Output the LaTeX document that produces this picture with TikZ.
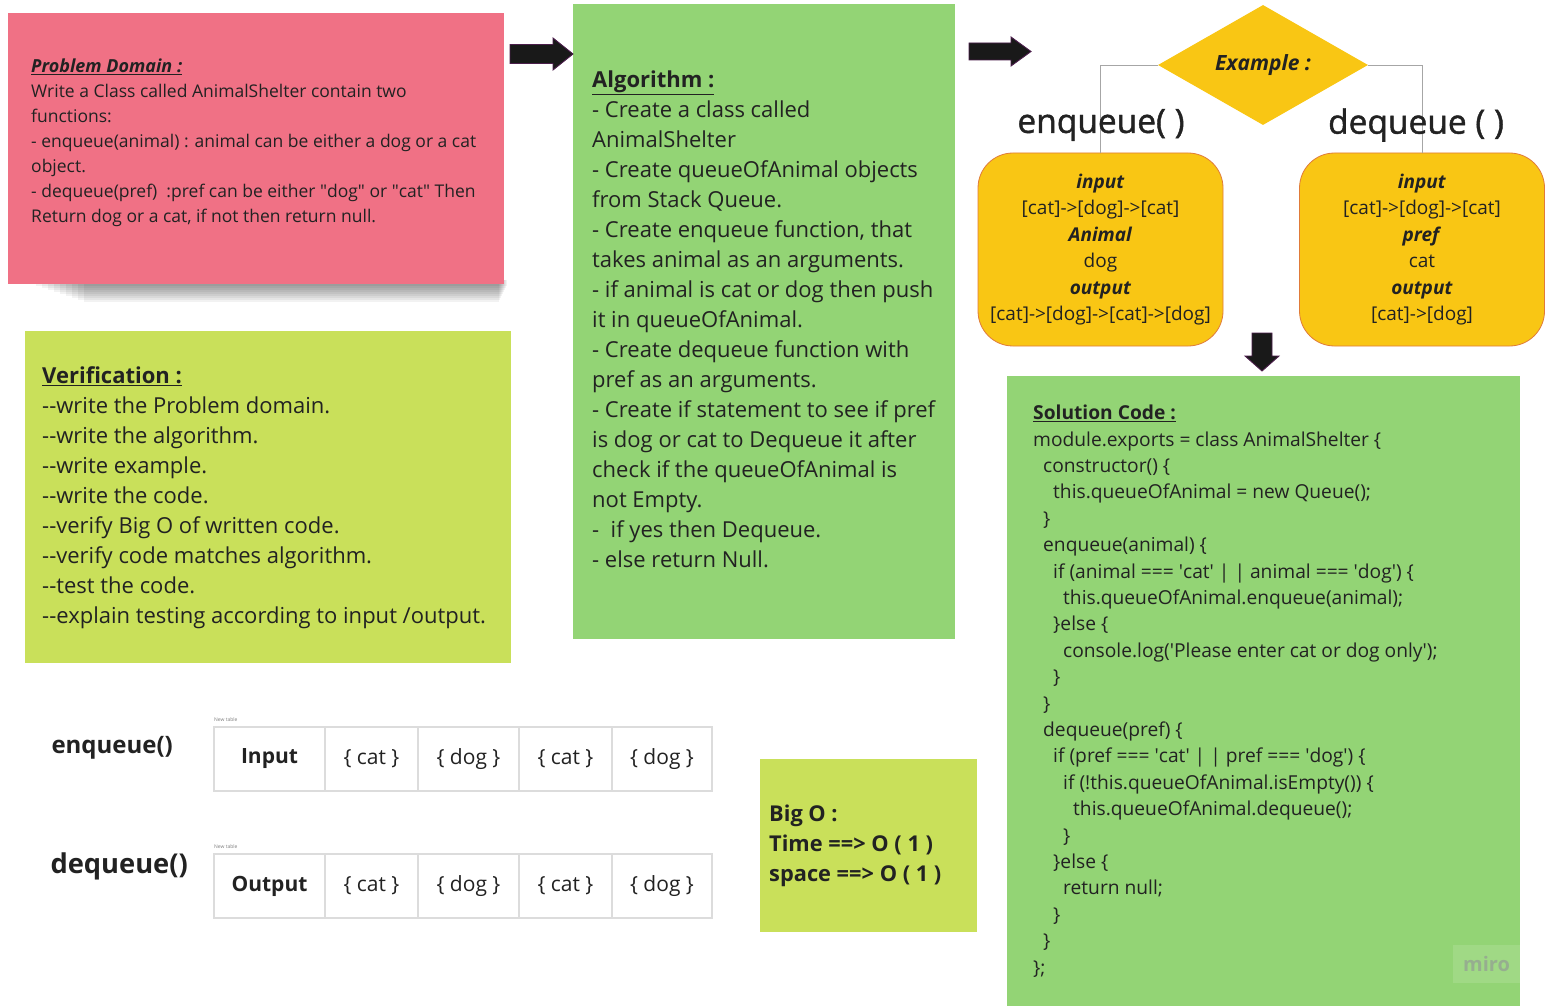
\documentclass[tikz,border=0pt]{standalone}
\usepackage{fontspec}
\setmainfont{Open Sans}
\newfontfamily\heavyfont{Open Sans}[FakeBold=1.3]
\usetikzlibrary{positioning,shapes.geometric}

\definecolor{stickypink}{HTML}{F07185}
\definecolor{leafgreen}{HTML}{93D475}
\definecolor{limegreen}{HTML}{C9E05A}
\definecolor{exgold}{HTML}{F9C614}
\definecolor{exedge}{HTML}{E07B39}
\definecolor{inkdark}{HTML}{222222}
\definecolor{arrowedge}{HTML}{4B1E4B}
\definecolor{cellline}{HTML}{DCDCDC}
\definecolor{mirogray}{HTML}{96AE8F}
\newcommand{\sq}{\textquotesingle}
\newcommand{\dq}{\textquotedbl}
\newcommand{\ind}[1]{\hspace*{#1}}

\begin{document}
\begin{tikzpicture}[x=1pt,y=-1pt,
    sticky/.style={anchor=north west,inner sep=0pt,outer sep=0pt},
    txt/.style={anchor=north west,inner sep=0pt,align=left,text=inkdark},
    exbox/.style={fill=exgold,draw=exedge,line width=0.8pt,rounded corners=35pt,
      minimum width=245pt,minimum height=193pt,align=center,text=inkdark,
      font=\fontsize{19}{26.4}\selectfont},
    link/.style={draw=gray!70,line width=0.8pt},
    bigarrow/.style={fill=black!90,draw=arrowedge,line width=0.9pt},
    cell/.style={draw=cellline,line width=1.1pt,minimum height=64pt,inner sep=0pt,
      outer sep=0pt,text=inkdark,font=\fontsize{21}{25}\selectfont},
    capt/.style={anchor=south west,inner sep=0pt,text=gray,font=\fontsize{5}{6}\selectfont}]
  \useasboundingbox (0,0) rectangle (1549,1008);
  \fill[white] (0,0) rectangle (1549,1008);

  % problem domain sticky note with its shadow
  \foreach \d in {2,4,...,18}
    \fill[black,opacity=0.05] (30+3*\d,280) rectangle (508-\d/2,284+\d);
  \node[sticky,fill=stickypink,minimum width=496pt,minimum height=271pt] (pd) at (8,13) {};
  \node[txt,font=\fontsize{17.5}{25}\selectfont] (pdtxt) at (31,59)
    {\underline{\textbf{\textit{\fontsize{18}{25}\selectfont Problem Domain :}}}\\
     Write a Class called AnimalShelter contain two\\
     functions:\\
     - enqueue(animal) : animal can be either a dog or a cat\\
     object.\\
     - dequeue(pref) \ :pref can be either \dq dog\dq\ or \dq cat\dq\ Then\\
     Return dog or a cat, if not then return null.};

  % algorithm
  \node[sticky,fill=leafgreen,minimum width=382pt,minimum height=635pt] (alg) at (573,4) {};
  \node[txt,font=\fontsize{22}{30}\selectfont] (algtxt) at (592,71)
    {\underline{\textbf{Algorithm :}}\\
     - Create a class called\\
     AnimalShelter\\
     - Create queueOfAnimal objects\\
     from Stack Queue.\\
     - Create enqueue function, that\\
     takes animal as an arguments.\\
     - if animal is cat or dog then push\\
     it in queueOfAnimal.\\
     - Create dequeue function with\\
     pref as an arguments.\\
     - Create if statement to see if pref\\
     is dog or cat to Dequeue it after\\
     check if the queueOfAnimal is\\
     not Empty.\\
     - \ if yes then Dequeue.\\
     - else return Null.};

  % verification
  \node[sticky,fill=limegreen,minimum width=486pt,minimum height=332pt] (ver) at (25,331) {};
  \node[txt,font=\fontsize{22}{30}\selectfont] (vertxt) at (42,366)
    {\underline{\textbf{Verification :}}\\
     -{}-write the Problem domain.\\
     -{}-write the algorithm.\\
     -{}-write example.\\
     -{}-write the code.\\
     -{}-verify Big O of written code.\\
     -{}-verify code matches algorithm.\\
     -{}-test the code.\\
     -{}-explain testing according to input /output.};

  % block arrows
  \filldraw[bigarrow] (510,44.5) -- (553,44.5) -- (553,38) -- (573,54) -- (553,70)
    -- (553,63.5) -- (510,63.5) -- cycle;
  \filldraw[bigarrow] (969,43) -- (1011,43) -- (1011,37) -- (1031,51.5) -- (1011,66)
    -- (1011,60) -- (969,60) -- cycle;
  \filldraw[bigarrow] (1252,333) -- (1272,333) -- (1272,356) -- (1279,356) -- (1262,371)
    -- (1245,356) -- (1252,356) -- cycle;

  % example
  \node[exbox] (enqbox) at (1100.5,249.5)
    {\textbf{\textit{input}}\\{}[cat]->[dog]->[cat]\\ \textbf{\textit{Animal}}\\ dog\\
     \textbf{\textit{output}}\\{}[cat]->[dog]->[cat]->[dog]};
  \node[exbox] (deqbox) at (1422,249.5)
    {\textbf{\textit{input}}\\{}[cat]->[dog]->[cat]\\ \textbf{\textit{pref}}\\ cat\\
     \textbf{\textit{output}}\\{}[cat]->[dog]};
  \node[diamond,fill=exgold,minimum width=210pt,minimum height=120pt,inner sep=0pt,
    text=inkdark,font=\bfseries\itshape\fontsize{21}{25}\selectfont] (ex) at (1263,65) {Example :};
  \draw[link] (ex.west) -| (enqbox.north);
  \draw[link] (ex.east) -| (deqbox.north);
  \node[text=inkdark,font=\heavyfont\fontsize{33.5}{38}\selectfont] (enqlbl) at (1101,125) {enqueue( )};
  \node[text=inkdark,font=\heavyfont\fontsize{33.5}{38}\selectfont] (deqlbl) at (1416,125) {dequeue ( )};

  % solution code
  \node[sticky,fill=leafgreen,minimum width=513pt,minimum height=630pt] (code) at (1007,376) {};
  \node[txt,font=\fontsize{19.2}{26.4}\selectfont] (codetxt) at (1033,405)
    {\underline{\textbf{Solution Code :}}\\
     module.exports = class AnimalShelter \{\\
     \ind{10pt}constructor() \{\\
     \ind{20pt}this.queueOfAnimal = new Queue();\\
     \ind{10pt}\}\\
     \ind{10pt}enqueue(animal) \{\\
     \ind{20pt}if (animal === \sq cat\sq\ | | animal === \sq dog\sq) \{\\
     \ind{30pt}this.queueOfAnimal.enqueue(animal);\\
     \ind{20pt}\}else \{\\
     \ind{30pt}console.log(\sq Please enter cat or dog only\sq);\\
     \ind{20pt}\}\\
     \ind{10pt}\}\\
     \ind{10pt}dequeue(pref) \{\\
     \ind{20pt}if (pref === \sq cat\sq\ | | pref === \sq dog\sq) \{\\
     \ind{30pt}if (!this.queueOfAnimal.isEmpty()) \{\\
     \ind{40pt}this.queueOfAnimal.dequeue();\\
     \ind{30pt}\}\\
     \ind{20pt}\}else \{\\
     \ind{30pt}return null;\\
     \ind{20pt}\}\\
     \ind{10pt}\}\\
     \};};
  \node[sticky,fill=white,fill opacity=0.12,minimum width=67pt,minimum height=38pt] (wm) at (1453,945) {};
  \node[text=mirogray,font=\bfseries\fontsize{20}{20}\selectfont] (wmtxt) at (wm.center) {miro};

  % tables
  \node[anchor=west,text=inkdark,font=\bfseries\fontsize{24}{28}\selectfont] (enqtab) at (48,748) {enqueue()};
  \node[anchor=west,text=inkdark,font=\bfseries\fontsize{27.3}{31}\selectfont] (deqtab) at (47,866) {dequeue()};
  \foreach \r/\yc/\hd in {in/759/Input,out/886/Output}{
    \node[cell,minimum width=111pt] (\r0) at (269.5,\yc) {\textbf{\hd}};
    \node[cell,minimum width=93pt,right=0pt of \r0] (\r1) {\{ cat \}};
    \node[cell,minimum width=101pt,right=0pt of \r1] (\r2) {\{ dog \}};
    \node[cell,minimum width=93pt,right=0pt of \r2] (\r3) {\{ cat \}};
    \node[cell,minimum width=100pt,right=0pt of \r3] (\r4) {\{ dog \}};
    \node[capt] (\r cap) at ([yshift=5pt]\r0.north west) {New table};
  }

  % big o
  \node[sticky,fill=limegreen,minimum width=217pt,minimum height=173pt] (bigo) at (760,759) {};
  \node[txt,font=\bfseries\fontsize{21.8}{30}\selectfont] (bigotxt) at (769,805)
    {Big O :\\ Time ==> O ( 1 )\\ space ==> O ( 1 )};
\end{tikzpicture}
\end{document}
